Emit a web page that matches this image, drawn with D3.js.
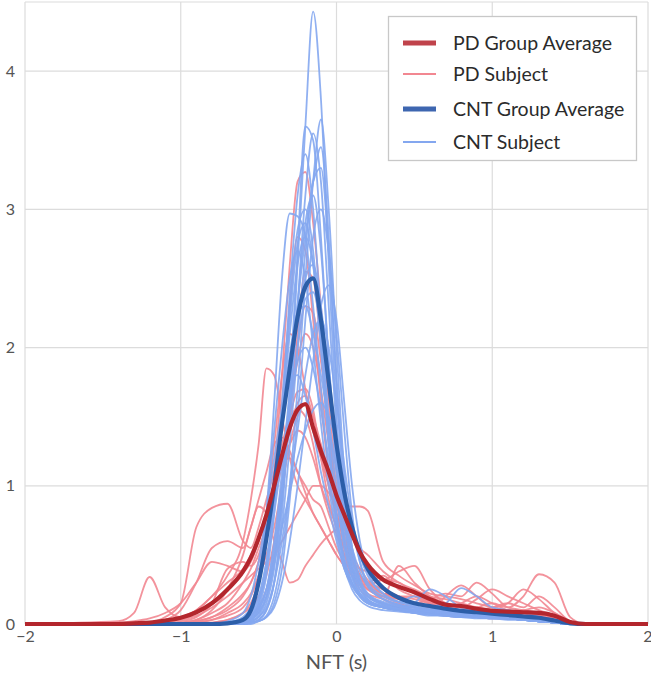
<!DOCTYPE html>
<html>
<head>
<meta charset="utf-8">
<script src="https://cdn.jsdelivr.net/npm/d3@7"></script>
<style>
  html, body { margin: 0; padding: 0; background: #fff; }
  svg { display: block; }
</style>
</head>
<body>
<svg id="chart" width="651" height="678"></svg>
<script>
// ---- DATA ----
const xs = [-2, -1.4, -1.3, -1.2, -1.1, -1.0, -0.9, -0.8, -0.7, -0.6,
  -0.55, -0.5, -0.45, -0.4, -0.35, -0.3, -0.25, -0.2, -0.15, -0.1, -0.05, 0, 0.05, 0.1, 0.15, 0.2,
  0.3, 0.4, 0.5, 0.6, 0.7, 0.8, 0.9, 1.0, 1.1, 1.2, 1.3, 1.4, 1.5, 1.6, 2];

const xTicks = [-2, -1, 0, 1, 2];
const yTicks = [0, 1, 2, 3, 4];
const xLabel = "NFT (s)";
const legendLabels = ["PD Group Average", "PD Subject", "CNT Group Average", "CNT Subject"];

const pdSubjects = [
  [0, 0,0,0,0,0,0,0.01,0.03,0.08, 0.15,0.3,0.6,1.1,1.8,2.6,3.2,3.27,2.9,2.3,1.6,1.1,0.75,0.5,0.35,0.27, 0.18,0.13,0.1,0.08,0.06,0.05,0.05,0.04,0.04,0.03,0.03,0.02,0,0,0],
  [0, 0,0,0,0.02,0.05,0.1,0.2,0.35,0.6, 0.9,1.3,1.85,1.8,1.5,1.2,1.0,0.9,0.8,0.7,0.6,0.5,0.42,0.35,0.3,0.25, 0.2,0.15,0.12,0.1,0.1,0.08,0.06,0.05,0.05,0.04,0.03,0.02,0,0,0],
  [0, 0.02,0.08,0.34,0.12,0.05,0.1,0.2,0.3,0.4, 0.5,0.6,0.8,1.0,1.2,1.3,1.4,1.35,1.2,1.0,0.85,0.7,0.55,0.45,0.35,0.3, 0.22,0.18,0.15,0.12,0.1,0.1,0.12,0.1,0.08,0.08,0.06,0.04,0.01,0,0],
  [0, 0,0,0.01,0.05,0.15,0.7,0.84,0.87,0.6, 0.55,0.7,0.9,1.1,1.3,1.5,1.55,1.5,1.3,1.0,0.8,0.65,0.5,0.4,0.32,0.25, 0.2,0.18,0.15,0.12,0.1,0.08,0.07,0.06,0.05,0.04,0.04,0.03,0.01,0,0],
  [0, 0,0,0,0,0.01,0.03,0.1,0.25,0.5, 0.7,0.85,0.8,0.6,0.45,0.3,0.32,0.42,0.5,0.58,0.64,0.68,0.6,0.5,0.4,0.32, 0.25,0.2,0.18,0.15,0.14,0.12,0.1,0.08,0.06,0.05,0.04,0.03,0.01,0,0],
  [0, 0,0,0,0,0,0.01,0.03,0.08,0.15, 0.22,0.35,0.5,0.7,1.0,1.3,1.5,1.6,1.5,1.3,1.1,0.95,0.87,0.85,0.85,0.82, 0.45,0.35,0.28,0.22,0.2,0.18,0.15,0.12,0.1,0.08,0.06,0.04,0.01,0,0],
  [0, 0,0,0,0,0.01,0.03,0.08,0.15,0.3, 0.4,0.55,0.7,0.9,1.15,1.4,1.6,1.65,1.5,1.25,1.0,0.8,0.6,0.45,0.35,0.3, 0.22,0.2,0.15,0.12,0.1,0.1,0.12,0.15,0.12,0.2,0.36,0.3,0.05,0,0],
  [0, 0,0,0,0,0,0.02,0.05,0.12,0.22, 0.3,0.45,0.65,0.9,1.2,1.55,1.9,2.1,2.0,1.7,1.3,0.95,0.65,0.45,0.35,0.3, 0.25,0.2,0.15,0.18,0.22,0.2,0.3,0.22,0.12,0.1,0.08,0.05,0.01,0,0],
  [0, 0,0,0,0,0,0,0.01,0.03,0.08, 0.12,0.2,0.35,0.6,1.0,1.5,2.0,2.3,2.25,1.9,1.45,1.0,0.7,0.48,0.35,0.28, 0.2,0.42,0.3,0.2,0.15,0.12,0.1,0.08,0.08,0.06,0.05,0.03,0.01,0,0],
  [0, 0,0,0,0,0,0.01,0.03,0.06,0.12, 0.2,0.35,0.6,1.0,1.6,2.3,2.8,2.7,2.2,1.6,1.1,0.75,0.5,0.35,0.28,0.22, 0.18,0.14,0.12,0.1,0.2,0.28,0.2,0.12,0.15,0.25,0.18,0.08,0.02,0,0],
  [0, 0.01,0.02,0.04,0.08,0.15,0.3,0.45,0.42,0.38, 0.45,0.6,0.8,1.0,1.15,1.2,1.1,0.95,0.8,0.7,0.6,0.5,0.42,0.35,0.3,0.28, 0.32,0.3,0.22,0.16,0.12,0.1,0.1,0.09,0.08,0.1,0.12,0.08,0.02,0,0],
  [0, 0,0,0,0,0,0.02,0.05,0.1,0.2, 0.3,0.45,0.8,1.3,1.8,2.1,2.0,1.7,1.4,1.2,1.0,0.8,0.6,0.45,0.35,0.28, 0.22,0.2,0.2,0.15,0.12,0.15,0.2,0.15,0.1,0.08,0.06,0.04,0.01,0,0],
  [0, 0,0,0,0.01,0.03,0.06,0.12,0.2,0.3, 0.35,0.4,0.45,0.5,0.6,0.7,0.8,0.9,1.0,1.0,0.95,0.85,0.75,0.65,0.55,0.5, 0.38,0.3,0.25,0.2,0.18,0.15,0.12,0.1,0.1,0.08,0.06,0.04,0.01,0,0],
  [0, 0,0,0,0,0,0,0,0.01,0.03, 0.06,0.12,0.25,0.5,0.9,1.5,2.1,2.55,2.5,2.0,1.4,0.9,0.55,0.35,0.25,0.2, 0.15,0.12,0.1,0.08,0.07,0.06,0.05,0.05,0.04,0.04,0.03,0.02,0,0,0],
  [0, 0,0,0.01,0.03,0.1,0.3,0.55,0.6,0.55, 0.7,0.9,1.1,1.3,1.35,1.25,1.1,1.0,0.9,0.85,0.7,0.55,0.45,0.38,0.32,0.3, 0.35,0.25,0.2,0.15,0.14,0.12,0.18,0.25,0.2,0.15,0.1,0.06,0.01,0,0],
  [0, 0,0,0,0,0.02,0.05,0.15,0.4,0.45, 0.42,0.5,0.7,0.95,1.2,1.5,1.68,1.7,1.55,1.2,0.9,0.7,0.55,0.45,0.4,0.38, 0.32,0.38,0.42,0.25,0.15,0.12,0.1,0.12,0.15,0.12,0.2,0.12,0.02,0,0]
];

const cntSubjects = [
  [0, 0,0,0,0,0,0,0,0,0, 0.01,0.03,0.1,0.3,0.8,1.6,2.6,3.6,4.43,3.8,2.6,1.5,0.8,0.4,0.25,0.18, 0.12,0.1,0.08,0.07,0.06,0.05,0.05,0.04,0.04,0.03,0.02,0.01,0,0,0],
  [0, 0,0,0,0,0,0,0,0,0.01, 0.02,0.05,0.15,0.4,0.9,1.7,2.7,3.6,3.5,2.8,1.9,1.1,0.6,0.35,0.22,0.16, 0.12,0.1,0.08,0.06,0.06,0.05,0.04,0.04,0.03,0.03,0.02,0.01,0,0,0],
  [0, 0,0,0,0,0,0,0,0,0, 0.01,0.02,0.06,0.2,0.5,1.0,1.7,2.5,3.2,3.65,3.0,2.0,1.1,0.55,0.3,0.2, 0.14,0.1,0.08,0.07,0.06,0.05,0.05,0.04,0.04,0.03,0.02,0.01,0,0,0],
  [0, 0,0,0,0,0,0,0,0,0.01, 0.03,0.08,0.2,0.45,0.9,1.5,2.3,3.1,3.55,3.2,2.3,1.4,0.75,0.4,0.25,0.18, 0.12,0.1,0.09,0.08,0.07,0.06,0.05,0.05,0.04,0.03,0.02,0.01,0,0,0],
  [0, 0,0,0,0,0,0,0,0.01,0.04, 0.1,0.3,0.8,1.6,2.5,2.97,2.95,2.8,2.3,1.7,1.1,0.7,0.45,0.3,0.22,0.17, 0.13,0.1,0.09,0.08,0.07,0.06,0.05,0.05,0.04,0.03,0.02,0.01,0,0,0],
  [0, 0,0,0,0,0,0,0,0,0, 0.01,0.03,0.1,0.3,0.7,1.3,2.0,2.7,3.2,3.3,2.7,1.8,1.0,0.55,0.33,0.22, 0.15,0.12,0.1,0.08,0.07,0.06,0.06,0.05,0.04,0.03,0.02,0.01,0,0,0],
  [0, 0,0,0,0,0,0,0,0,0.02, 0.05,0.15,0.4,0.85,1.5,2.2,2.75,2.9,2.6,2.0,1.3,0.8,0.48,0.3,0.2,0.15, 0.12,0.1,0.15,0.25,0.2,0.12,0.1,0.08,0.06,0.04,0.03,0.01,0,0,0],
  [0, 0,0,0,0,0,0,0,0,0.01, 0.03,0.1,0.25,0.6,1.1,1.7,2.2,2.5,2.6,2.3,1.8,1.3,0.85,0.5,0.3,0.2, 0.15,0.12,0.1,0.1,0.12,0.1,0.08,0.07,0.05,0.04,0.03,0.01,0,0,0],
  [0, 0,0,0,0,0,0,0,0.01,0.05, 0.12,0.3,0.6,1.0,1.5,1.95,2.25,2.3,2.1,1.8,1.45,1.1,0.8,0.55,0.38,0.27, 0.18,0.14,0.12,0.1,0.1,0.09,0.08,0.07,0.06,0.05,0.03,0.01,0,0,0],
  [0, 0,0,0,0,0,0,0,0,0, 0,0.02,0.05,0.15,0.4,0.9,1.5,2.2,2.8,3.0,2.7,2.1,1.4,0.8,0.45,0.28, 0.18,0.14,0.12,0.1,0.09,0.08,0.07,0.06,0.05,0.04,0.03,0.01,0,0,0],
  [0, 0,0,0,0,0,0,0,0.01,0.03, 0.08,0.2,0.45,0.8,1.2,1.6,1.9,2.0,1.85,1.55,1.2,0.9,0.6,0.4,0.28,0.2, 0.15,0.13,0.12,0.11,0.1,0.09,0.08,0.07,0.06,0.05,0.03,0.01,0,0,0],
  [0, 0,0,0,0,0,0,0,0,0.01, 0.04,0.12,0.35,0.8,1.5,2.4,3.1,3.4,3.0,2.2,1.4,0.8,0.45,0.28,0.2,0.15, 0.12,0.1,0.09,0.08,0.07,0.06,0.06,0.05,0.04,0.03,0.02,0.01,0,0,0],
  [0, 0,0,0,0,0,0,0,0.01,0.04, 0.12,0.35,0.8,1.4,2.0,2.5,2.7,2.5,2.0,1.45,1.0,0.65,0.4,0.28,0.2,0.16, 0.12,0.11,0.1,0.09,0.08,0.07,0.06,0.05,0.04,0.03,0.02,0.01,0,0,0],
  [0, 0,0,0,0,0,0,0,0,0.01, 0.02,0.05,0.12,0.3,0.6,1.0,1.4,1.8,2.1,2.2,2.0,1.6,1.15,0.75,0.5,0.35, 0.22,0.16,0.14,0.13,0.15,0.26,0.2,0.12,0.1,0.08,0.05,0.02,0,0,0],
  [0, 0,0,0,0,0,0,0,0,0, 0.02,0.06,0.18,0.45,0.95,1.6,2.3,2.9,3.1,2.7,1.9,1.2,0.65,0.35,0.22,0.16, 0.12,0.1,0.08,0.07,0.06,0.05,0.05,0.04,0.04,0.03,0.02,0.01,0,0,0],
  [0, 0,0,0,0,0,0,0,0,0, 0.01,0.02,0.05,0.12,0.3,0.6,1.0,1.45,1.9,2.3,2.45,2.2,1.6,1.0,0.6,0.38, 0.22,0.16,0.13,0.11,0.1,0.09,0.08,0.07,0.06,0.05,0.03,0.01,0,0,0],
  [0, 0,0,0,0,0,0,0,0.02,0.08, 0.2,0.45,0.8,1.2,1.55,1.78,1.8,1.65,1.4,1.1,0.85,0.6,0.4,0.28,0.2,0.15, 0.12,0.1,0.1,0.09,0.08,0.08,0.07,0.06,0.05,0.04,0.03,0.01,0,0,0],
  [0, 0,0,0,0,0,0,0,0,0.01, 0.03,0.08,0.2,0.5,1.0,1.6,2.3,2.8,3.2,3.45,2.8,1.7,0.9,0.45,0.28,0.2, 0.14,0.11,0.09,0.08,0.07,0.06,0.05,0.05,0.04,0.03,0.02,0.01,0,0,0],
  [0, 0,0,0,0,0,0,0,0,0.02, 0.06,0.18,0.45,0.9,1.5,2.1,2.6,2.8,2.6,2.1,1.5,0.95,0.55,0.33,0.22,0.17, 0.13,0.11,0.1,0.09,0.08,0.07,0.06,0.05,0.05,0.04,0.03,0.01,0,0,0],
  [0, 0,0,0,0,0,0,0,0,0.01, 0.03,0.1,0.25,0.55,1.0,1.5,2.0,2.35,2.4,2.15,1.7,1.2,0.75,0.45,0.3,0.22, 0.16,0.13,0.11,0.1,0.09,0.08,0.07,0.06,0.05,0.04,0.03,0.01,0,0,0],
  [0, 0,0,0,0,0,0,0,0,0.01, 0.05,0.15,0.4,0.9,1.6,2.3,2.85,3.0,2.7,2.0,1.3,0.75,0.42,0.25,0.17,0.13, 0.1,0.09,0.08,0.07,0.06,0.06,0.05,0.04,0.04,0.03,0.02,0.01,0,0,0],
  [0, 0,0,0,0,0,0,0,0,0.02, 0.05,0.12,0.25,0.45,0.7,0.95,1.2,1.4,1.55,1.6,1.5,1.3,1.0,0.7,0.45,0.3, 0.2,0.16,0.2,0.18,0.12,0.1,0.08,0.07,0.06,0.05,0.03,0.01,0,0,0]
];

const pdAverage = [0, 0,0.005,0.01,0.025,0.045,0.085,0.15,0.25,0.38,
  0.48,0.62,0.79,1.0,1.22,1.42,1.55,1.59,1.42,1.25,1.1,0.93,0.79,0.65,0.52,0.43,
  0.32,0.27,0.23,0.18,0.14,0.13,0.11,0.095,0.09,0.085,0.08,0.06,0.015,0,0];

const cntAverage = [0, 0,0,0,0,0,0,0,0.005,0.03,
  0.1,0.3,0.62,1.0,1.45,1.85,2.22,2.44,2.5,2.2,1.75,1.3,0.95,0.7,0.52,0.4,
  0.26,0.19,0.15,0.13,0.11,0.095,0.085,0.075,0.065,0.055,0.045,0.025,0.005,0,0];

// ---- STYLE ----
const plot = { left: 25, right: 648, top: 2, bottom: 624 };
const colPDsub = "#f28791", colCNTsub = "#84a7ef";
const colPDavg = "#b3262d", colCNTavg = "#2c5ea8";
const tickFont = "Lato, sans-serif";

const svg = d3.select("#chart");
const x = d3.scaleLinear().domain([-2, 2]).range([plot.left, plot.right]);
const y = d3.scaleLinear().domain([0, 4.5]).range([plot.bottom, plot.top]);

// grid
const grid = svg.append("g");
grid.selectAll(".gx").data(xTicks).join("line")
  .attr("x1", d => x(d)).attr("x2", d => x(d))
  .attr("y1", plot.top).attr("y2", plot.bottom)
  .attr("stroke", "#dcdcdc").attr("stroke-width", 1.2);
grid.selectAll(".gy").data(yTicks).join("line")
  .attr("x1", plot.left).attr("x2", plot.right)
  .attr("y1", d => y(d)).attr("y2", d => y(d))
  .attr("stroke", "#dcdcdc").attr("stroke-width", 1.2);
grid.append("line").attr("x1", plot.left).attr("x2", plot.right)
  .attr("y1", plot.top).attr("y2", plot.top)
  .attr("stroke", "#dcdcdc").attr("stroke-width", 1.2);

// axes labels
const xAxis = d3.axisBottom(x).tickValues(xTicks).tickSize(0).tickPadding(7)
  .tickFormat(d => d < 0 ? "\u2212" + Math.abs(d) : String(d));
const gx = svg.append("g").attr("transform", `translate(0,${plot.bottom})`).call(xAxis);
gx.select(".domain").remove();
gx.selectAll("text").attr("font-family", tickFont)
  .attr("font-size", 16).attr("fill", "#555");
gx.selectAll(".tick").filter(d => d === 2).select("text").attr("text-anchor", "end").attr("dx", 4);

const yAxis = d3.axisLeft(y).tickValues(yTicks).tickSize(0).tickPadding(10)
  .tickFormat(d3.format("d"));
const gy = svg.append("g").attr("transform", `translate(${plot.left},0)`).call(yAxis);
gy.select(".domain").remove();
gy.selectAll("text").attr("font-family", tickFont)
  .attr("font-size", 16).attr("fill", "#555");

svg.append("text").attr("x", x(0)).attr("y", 669)
  .attr("text-anchor", "middle").attr("font-family", "Lato, sans-serif")
  .attr("font-size", 20).attr("fill", "#555").text(xLabel);

// lines
const line = d3.line().x((d, i) => x(xs[i])).y(d => y(d)).curve(d3.curveMonotoneX);
const lines = svg.append("g");
lines.selectAll(".pd").data(pdSubjects).join("path")
  .attr("d", line).attr("fill", "none").attr("stroke", colPDsub)
  .attr("stroke-width", 1.8).attr("stroke-opacity", 0.9);
lines.selectAll(".cnt").data(cntSubjects).join("path")
  .attr("d", line).attr("fill", "none").attr("stroke", colCNTsub)
  .attr("stroke-width", 1.8).attr("stroke-opacity", 0.9);
lines.append("path").datum(cntAverage).attr("d", line).attr("fill", "none")
  .attr("stroke", colCNTavg).attr("stroke-width", 4.2).attr("stroke-linejoin", "round");
lines.append("path").datum(pdAverage).attr("d", line).attr("fill", "none")
  .attr("stroke", colPDavg).attr("stroke-width", 4.2).attr("stroke-linejoin", "round");

// legend
const lg = svg.append("g");
lg.append("rect").attr("x", 388.5).attr("y", 16.5).attr("width", 248).attr("height", 144)
  .attr("fill", "#fff").attr("stroke", "#c8c8c8").attr("stroke-width", 1.3);
const legendStyle = [
  { c: "#c0434b", w: 5, y: 43 },
  { c: colPDsub, w: 1.8, y: 74 },
  { c: "#3e66b0", w: 5, y: 109 },
  { c: colCNTsub, w: 1.8, y: 142 }
];
legendLabels.forEach((t, i) => {
  const s = legendStyle[i];
  lg.append("line").attr("x1", 403).attr("x2", 436).attr("y1", s.y).attr("y2", s.y)
    .attr("stroke", s.c).attr("stroke-width", s.w);
  lg.append("text").attr("x", 453).attr("y", s.y).attr("dy", "0.35em")
    .attr("font-family", "Lato, sans-serif").attr("font-size", 19.5)
    .attr("fill", "#2b2b2b").text(t);
});
</script>
</body>
</html>
